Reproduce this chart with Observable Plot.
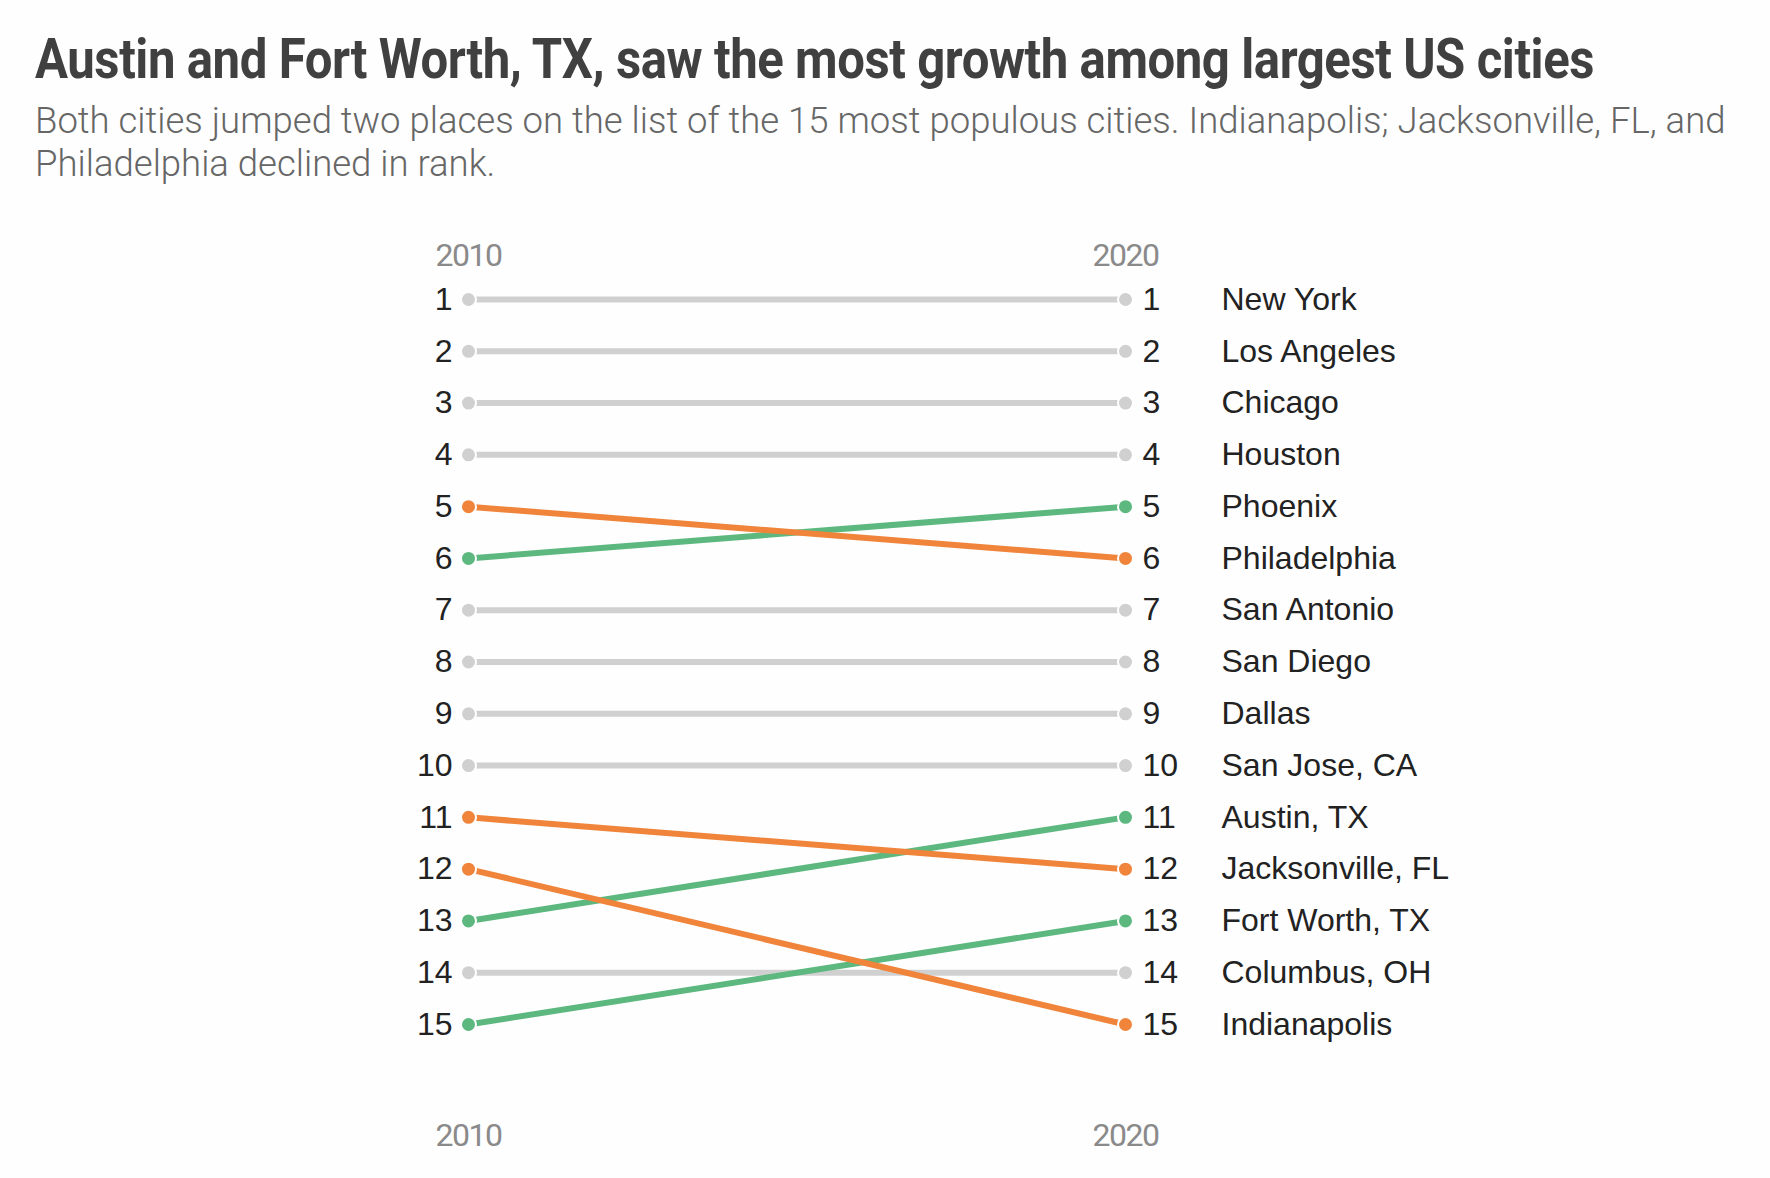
<!DOCTYPE html>
<html>
<head>
<meta charset="utf-8">
<script src="https://cdn.jsdelivr.net/npm/d3@7"></script>
<script src="https://cdn.jsdelivr.net/npm/@observablehq/plot@0.6"></script>
<style>
  html, body { margin: 0; padding: 0; background: #fefefe; }
  body { width: 1770px; height: 1178px; overflow: hidden; position: relative; }
  #title {
    position: absolute; left: 35px; top: 31px;
    font-family: Roboto, "Liberation Sans", sans-serif;
    font-weight: bold; font-size: 56px; line-height: 56px; color: #404040;
    white-space: nowrap; transform-origin: 0 0; letter-spacing: -0.5px;
  }
  #subtitle {
    position: absolute; left: 35px; top: 99px; width: 1730px;
    font-family: Roboto, "Liberation Sans", sans-serif; font-weight: 300;
    font-size: 36.5px; line-height: 43px; color: #666666; white-space: nowrap;
  }
  #chart { position: absolute; left: 0; top: 215px; }
  #chart svg { background: transparent; }
  #chart g[aria-label="x-axis tick label"] text { letter-spacing: -1.5px; }
</style>
</head>
<body>
<div id="title">Austin and Fort Worth, TX, saw the most growth among largest US cities</div>
<div id="subtitle">Both cities jumped two places on the list of the 15 most populous cities. Indianapolis; Jacksonville, FL, and<br>Philadelphia declined in rank.</div>
<div id="chart"></div>
<script>
// Data (ordered by 2020 rank)
const years = [2010, 2020];
const cities = ["New York", "Los Angeles", "Chicago", "Houston", "Phoenix", "Philadelphia",
  "San Antonio", "San Diego", "Dallas", "San Jose, CA", "Austin, TX", "Jacksonville, FL",
  "Fort Worth, TX", "Columbus, OH", "Indianapolis"];
const rank2010 = [1, 2, 3, 4, 6, 5, 7, 8, 9, 10, 13, 11, 15, 14, 12];
const rank2020 = [1, 2, 3, 4, 5, 6, 7, 8, 9, 10, 11, 12, 13, 14, 15];
const rankLabels = [1, 2, 3, 4, 5, 6, 7, 8, 9, 10, 11, 12, 13, 14, 15];
const changeKinds = ["same", "up", "down"];
const changeColors = ["#d0d0d0", "#5cb87f", "#ef843a"];

// fit the condensed-looking title to the reference width
const titleEl = document.getElementById("title");
const tw = titleEl.getBoundingClientRect().width;
titleEl.style.transform = `scaleX(${1559 / tw})`;

const rows = cities.map((city, i) => ({
  city, r2010: rank2010[i], r2020: rank2020[i],
  change: rank2020[i] < rank2010[i] ? "up" : rank2020[i] > rank2010[i] ? "down" : "same"
}));

const numFont = "'Liberation Sans', Arial, Helvetica, sans-serif";
const yearFont = "Roboto, 'Liberation Sans', sans-serif";

const linkMarks = changeKinds.map(k => Plot.link(rows.filter(d => d.change === k), {
  x1: () => 2010, y1: "r2010", x2: () => 2020, y2: "r2020",
  stroke: "change", strokeWidth: 6, strokeLinecap: "butt"
}));
const dotMarks = changeKinds.flatMap(k => [
  Plot.dot(rows.filter(d => d.change === k), {x: () => 2010, y: "r2010", fill: "change", r: 7.5, stroke: "white", strokeWidth: 2}),
  Plot.dot(rows.filter(d => d.change === k), {x: () => 2020, y: "r2020", fill: "change", r: 7.5, stroke: "white", strokeWidth: 2})
]);

const chart = Plot.plot({
  width: 1770,
  height: 963,
  marginLeft: 468,
  marginRight: 645,
  marginTop: 84,
  marginBottom: 154,
  style: {background: "transparent"},
  x: {type: "point", domain: years, padding: 0, axis: null},
  y: {domain: [1, 15], reverse: true, axis: null},
  color: {type: "ordinal", domain: changeKinds, range: changeColors},
  marks: [
    Plot.axisX({anchor: "top", tickSize: 0, tickPadding: 34, tickFormat: d => String(d),
      fontSize: 32, fontFamily: yearFont, fill: "#8a8a8a", label: null}),
    Plot.axisX({anchor: "bottom", tickSize: 0, tickPadding: 99, tickFormat: d => String(d),
      fontSize: 32, fontFamily: yearFont, fill: "#8a8a8a", label: null}),
    ...linkMarks,
    ...dotMarks,
    Plot.text(rankLabels, {x: () => 2010, y: d => d, text: d => String(d), textAnchor: "end", dx: -16,
      fontSize: 32, fontFamily: numFont, fill: "#222"}),
    Plot.text(rankLabels, {x: () => 2020, y: d => d, text: d => String(d), textAnchor: "start", dx: 17,
      fontSize: 32, fontFamily: numFont, fill: "#222"}),
    Plot.text(rows, {x: () => 2020, y: "r2020", text: "city", textAnchor: "start", dx: 96,
      fontSize: 32, fontFamily: numFont, fill: "#222"})
  ]
});
document.getElementById("chart").appendChild(chart);
</script>
</body>
</html>
